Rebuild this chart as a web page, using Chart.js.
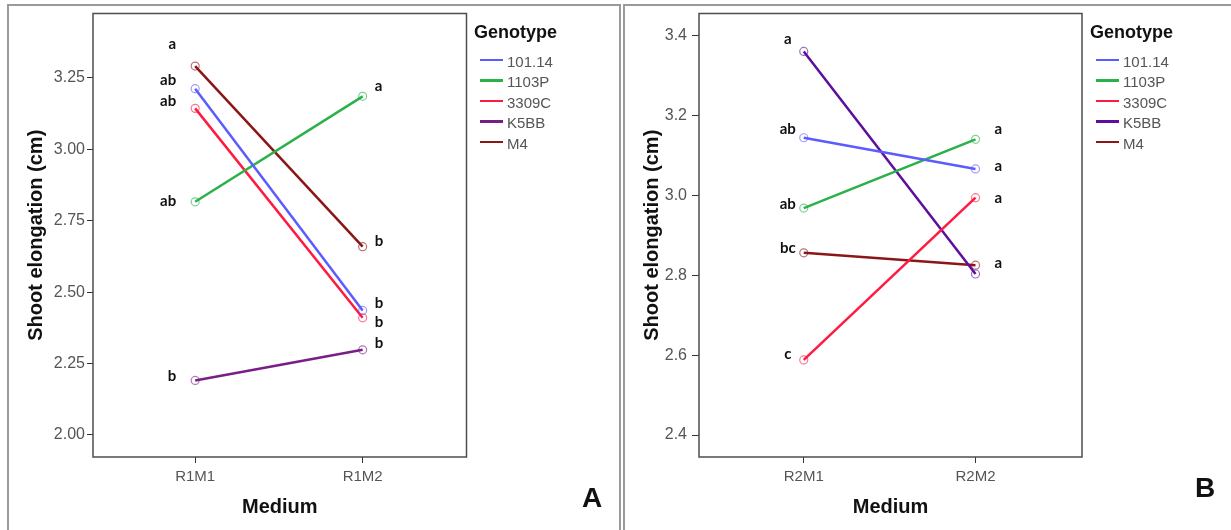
<!DOCTYPE html>
<html>
<head>
<meta charset="utf-8">
<script src="https://cdn.jsdelivr.net/npm/chart.js@4.4.1/dist/chart.umd.min.js"></script>
<style>
    body { margin: 0; background: #fff; width: 1231px; height: 530px; overflow: hidden; position: relative; font-family: "Liberation Sans", Arial, sans-serif; }
    .panel { position: absolute; top: 4px; height: 600px; border: 2px solid #9a9a9a; }
    #panelA { left: 7px; width: 610px; }
    #panelB { left: 623px; width: 620px; }
    .panel canvas { position: absolute; left: 0; top: 0; }
    .leg-title { position: absolute; left: 465px; top: 17px; font-weight: bold; font-size: 18px; line-height: 18px; color: #111; }
    .leg-line { position: absolute; width: 23px; height: 2.5px; }
    .leg-text { position: absolute; font-size: 15px; line-height: 15px; color: #555; }
    .tag { position: absolute; width: 40px; text-align: center; font-weight: bold; font-size: 28px; line-height: 28px; color: #111; }
</style>
</head>
<body>
<div class="panel" id="panelA"><canvas id="chartA" width="610" height="524"></canvas></div>
<div class="panel" id="panelB"><canvas id="chartB" width="606" height="524"></canvas></div>
<div class="tag" style="left:572px; top:484px;">A</div>
<div class="tag" style="left:1185px; top:474px;">B</div>
<script>
// categories and series
const genotypes = ["101.14", "1103P", "3309C", "K5BB", "M4"];
const mediumA = ["R1M1", "R1M2"];
const mediumB = ["R2M1", "R2M2"];

const a10114 = [3.212, 2.436];
const a1103P = [2.816, 3.185];
const a3309C = [3.143, 2.410];
const aK5BB = [2.191, 2.298];
const aM4 = [3.291, 2.659];

const b10114 = [3.144, 3.066];
const b1103P = [2.968, 3.140];
const b3309C = [2.588, 2.994];
const bK5BB = [3.360, 2.803];
const bM4 = [2.856, 2.825];

const yTicksA = [2.00, 2.25, 2.50, 2.75, 3.00, 3.25];
const yTicksB = [2.4, 2.6, 2.8, 3.0, 3.2, 3.4];

// significance letters, per medium, in genotype order
const lettersA1 = ["ab", "ab", "ab", "b", "a"];
const lettersA2 = ["b", "a", "b", "b", "b"];
const lettersB1 = ["ab", "ab", "c", "a", "bc"];
const lettersB2 = ["a", "a", "a", "", "a"];

// small pixel nudges so the letters don't sit on top of each other
const nudgeA1 = [-8, -1, -7, -4, -22];
const nudgeA2 = [-7, -10, 4, -7, -6];
const nudgeB1 = [-9, -4, -6, -12, -5];
const nudgeB2 = [-3, -10, 0, 0, -2];

const colorsA = ["#5b5bff", "#2bb14a", "#ff1a40", "#7a1e87", "#8b1616"];
const colorsB = ["#5b5bff", "#2bb14a", "#ff1a40", "#5c0f9c", "#8b1616"];

const framePlugin = {
    id: "frame",
    beforeDatasetsDraw(chart) {
        const { ctx, chartArea: a } = chart;
        ctx.save();
        ctx.strokeStyle = "#4d4d4d";
        ctx.lineWidth = 1.5;
        ctx.strokeRect(a.left, a.top, a.right - a.left, a.bottom - a.top);
        ctx.restore();
    }
};

const lettersPlugin = {
    id: "letters",
    afterDatasetsDraw(chart, args, opts) {
        const ctx = chart.ctx;
        const xs = chart.scales.x;
        const ys = chart.scales.y;
        ctx.save();
        ctx.font = "bold 15px Lato";
        ctx.fillStyle = "#111";
        ctx.textBaseline = "middle";
        chart.data.datasets.forEach((ds, i) => {
            ds.data.forEach((p, j) => {
                const txt = opts.letters[j][i];
                if (!txt) return;
                const side = opts.sides[j];
                ctx.textAlign = side.align;
                ctx.fillText(txt, xs.getPixelForValue(p.x) + side.dx, ys.getPixelForValue(p.y) + opts.nudges[j][i]);
            });
        });
        ctx.restore();
    }
};

function buildChart(id, cfg) {
    const ctx = document.getElementById(id).getContext("2d");
    return new Chart(ctx, {
        type: "line",
        data: {
            datasets: genotypes.map((g, i) => ({
                label: g,
                data: cfg.series[i].map((v, j) => ({ x: j, y: v })),
                borderColor: cfg.colors[i],
                borderWidth: 2.5,
                pointRadius: 4,
                pointBorderWidth: 1.2,
                pointBackgroundColor: "rgba(0,0,0,0)",
                pointBorderColor: cfg.colors[i] + "99",
                tension: 0
            }))
        },
        options: {
            responsive: false,
            animation: false,
            events: [],
            layout: { padding: { top: 7.5, right: cfg.padRight, left: 0, bottom: 0 } },
            plugins: {
                legend: { display: false },
                tooltip: { enabled: false },
                letters: { letters: cfg.letters, nudges: cfg.nudges, sides: cfg.sides }
            },
            scales: {
                x: {
                    type: "linear",
                    bounds: "data",
                    min: -0.61,
                    max: 1.62,
                    afterBuildTicks: s => { s.ticks = cfg.cats.map((c, j) => ({ value: j })); },
                    afterFit: s => { s.height = 73; s.paddingLeft = 0; s.paddingRight = 0; },
                    border: { display: false },
                    grid: { display: true, drawOnChartArea: false, color: "#333", tickLength: 6 },
                    ticks: {
                        autoSkip: false,
                        maxRotation: 0,
                        padding: 5,
                        color: "#555",
                        font: { family: "Liberation Sans", size: 15 },
                        callback: v => cfg.cats[v]
                    },
                    title: {
                        display: true,
                        text: "Medium",
                        color: "#111",
                        font: { family: "Liberation Sans", size: 20, weight: "bold" },
                        padding: { top: 0, bottom: 11 }
                    }
                },
                y: {
                    type: "linear",
                    bounds: "data",
                    min: cfg.yMin,
                    max: cfg.yMax,
                    afterBuildTicks: s => { s.ticks = cfg.yTicks.map(v => ({ value: v })); },
                    afterFit: s => { s.width = cfg.yWidth; s.paddingTop = 0; s.paddingBottom = 0; },
                    border: { display: false },
                    grid: { display: true, drawOnChartArea: false, color: "#333", tickLength: cfg.tickLen },
                    ticks: {
                        padding: cfg.tickPad,
                        color: "#555",
                        font: { family: "Liberation Sans", size: 16 },
                        callback: v => v.toFixed(cfg.decimals)
                    },
                    title: {
                        display: true,
                        text: "Shoot elongation (cm)",
                        color: "#111",
                        font: { family: "Liberation Sans", size: 20, weight: "bold" },
                        padding: { top: 15, bottom: 0 }
                    }
                }
            }
        },
        plugins: [framePlugin, lettersPlugin]
    });
}

function buildLegend(panelId, colors) {
    const panel = document.getElementById(panelId);
    const title = document.createElement("div");
    title.className = "leg-title";
    title.textContent = "Genotype";
    panel.appendChild(title);
    genotypes.forEach((g, i) => {
        const cy = 55 + 20.5 * i;
        const line = document.createElement("div");
        line.className = "leg-line";
        line.style.left = "471px";
        line.style.top = (cy - 1 - 1.25) + "px";
        line.style.background = colors[i];
        panel.appendChild(line);
        const txt = document.createElement("div");
        txt.className = "leg-text";
        txt.style.left = "498px";
        txt.style.top = (cy - 7.3) + "px";
        txt.textContent = g;
        panel.appendChild(txt);
    });
}

buildChart("chartA", {
    cats: mediumA,
    series: [a10114, a1103P, a3309C, aK5BB, aM4],
    colors: colorsA,
    yMin: 1.923, yMax: 3.475, yTicks: yTicksA, decimals: 2,
    yWidth: 84, padRight: 152.5, tickLen: 6, tickPad: 2,
    letters: [lettersA1, lettersA2],
    nudges: [nudgeA1, nudgeA2],
    sides: [{ align: "right", dx: -19 }, { align: "left", dx: 12 }]
});

buildChart("chartB", {
    cats: mediumB,
    series: [b10114, b1103P, b3309C, bK5BB, bM4],
    colors: colorsB,
    yMin: 2.345, yMax: 3.455, yTicks: yTicksB, decimals: 1,
    yWidth: 74, padRight: 149, tickLen: 7, tickPad: 5,
    letters: [lettersB1, lettersB2],
    nudges: [nudgeB1, nudgeB2],
    sides: [{ align: "center", dx: -16 }, { align: "left", dx: 19 }]
});

buildLegend("panelA", colorsA);
buildLegend("panelB", colorsB);
</script>
</body>
</html>
